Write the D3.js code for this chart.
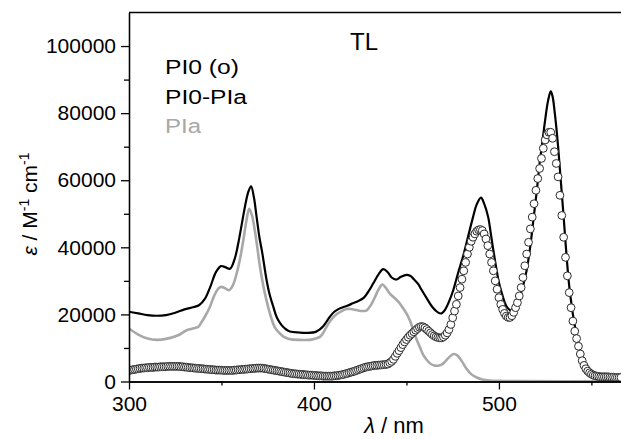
<!DOCTYPE html>
<html>
<head>
<meta charset="utf-8">
<script src="https://cdn.jsdelivr.net/npm/d3@7"></script>
<style>
  body { margin: 0; background: #fff; }
  svg { display: block; font-family: "Liberation Sans", Arial, sans-serif; }
  .axis path, .axis line { stroke: #000; stroke-width: 1.3; }
  .axis text { font-size: 21px; fill: #000; }
</style>
</head>
<body>
<script>
var width = 621,
    height = 439,
    margin = { top: 12.5, right: 0, bottom: 57.5, left: 129 };

// values in 10^3 M-1 cm-1
// PI0 (o): open circles, one per nm from 300 to 566 nm
var pi0Start = 300;
var pi0 = [
  3.3,3.4,3.5,3.6,3.7,3.8,3.9,4.0,4.0,4.1,
  4.1,4.2,4.2,4.2,4.3,4.3,4.3,4.4,4.4,4.4,
  4.4,4.5,4.5,4.5,4.5,4.5,4.5,4.5,4.4,4.4,
  4.3,4.3,4.2,4.1,4.1,4.0,4.0,3.9,3.9,3.8,
  3.8,3.7,3.7,3.6,3.6,3.5,3.5,3.4,3.4,3.4,
  3.4,3.3,3.3,3.3,3.3,3.3,3.3,3.4,3.4,3.5,
  3.5,3.6,3.6,3.7,3.7,3.8,3.8,3.9,3.9,4.0,
  4.0,4.0,4.0,3.9,3.8,3.7,3.6,3.5,3.4,3.3,
  3.2,3.1,3.0,2.9,2.8,2.7,2.6,2.5,2.4,2.3,
  2.3,2.2,2.2,2.1,2.1,2.0,2.0,1.9,1.9,1.9,
  1.8,1.8,1.7,1.7,1.7,1.6,1.6,1.6,1.6,1.6,
  1.6,1.7,1.7,1.8,1.9,2.0,2.1,2.3,2.4,2.6,
  2.8,2.9,3.1,3.3,3.5,3.7,3.9,4.1,4.3,4.4,
  4.5,4.6,4.7,4.8,4.8,4.9,4.9,5.0,5.0,5.1,
  5.2,5.6,6.0,6.6,7.5,8.4,9.2,10.1,11.0,11.8,
  12.5,13.2,13.8,14.3,14.8,15.3,15.8,16.2,16.4,16.3,
  16.0,15.5,15.0,14.5,14.0,13.6,13.3,13.1,13.0,13.0,
  13.3,13.8,14.5,15.5,17.0,19.0,21.0,23.0,25.5,28.0,
  30.5,33.0,35.5,38.0,40.0,41.8,43.0,44.0,44.8,45.2,
  45.3,45.0,44.0,42.5,40.5,38.0,35.5,33.0,30.0,27.5,
  25.0,23.0,21.5,20.3,19.5,19.1,19.1,19.6,20.6,22.0,
  23.5,25.5,28.0,31.0,34.5,38.0,41.5,45.5,49.0,53.0,
  57.0,60.5,63.5,66.5,69.5,72.0,73.5,74.3,74.3,72.5,
  68.5,65.0,61.0,55.5,49.5,43.0,37.0,31.5,26.5,22.0,
  18.0,15.0,12.8,10.5,8.2,6.2,4.8,3.8,3.1,2.6,
  2.2,1.9,1.7,1.6,1.5,1.4,1.4,1.4,1.4,1.4,
  1.3,1.3,1.3,1.2,1.2,1.2,1.2
];

// PI0-PIa: black line [nm, value]
var pi0pia = [
  [300,20.8],[305,20.3],[310,19.8],[315,19.6],[320,19.8],[325,20.5],[330,21.5],
  [335,22.2],[338,22.8],[341,24.6],[344,28.3],[347,32.6],[349.7,34.4],[352,34.1],
  [354.6,33.6],[357,36.3],[359,41],[361,47],[363,53],[364.5,56.5],[366,58.2],
  [367.5,55],[369,49],[370.5,43],[372,38.5],[374.4,30.2],[376,26],[378,22.3],
  [380,19],[382.5,16.8],[385,15.5],[387,14.9],[392,14.6],[397,14.5],[401,14.8],
  [403,15.5],[405,16.5],[408.6,19.3],[411,20.8],[414,21.8],[418,22.6],[421,23.3],
  [424,24],[427,25],[430,27.3],[432,29.2],[435,32],[437.5,33.5],[440,32.5],
  [442,31],[444.5,30.4],[447,31.2],[450,31.8],[452,31.5],[454,30.5],[456.4,29],
  [458,27.5],[461,24.8],[464,22.2],[467,20.6],[469,20.3],[471,21.5],[473,23.8],
  [475.3,27.2],[478,32.5],[480.7,37.5],[483,42.5],[486,49],[488,52.8],[490.3,54.8],
  [492,53],[494.2,49],[495.5,44.5],[497,39.1],[498.5,34],[500,29.5],[502,25.5],
  [504,22.5],[506,21.3],[508,21.8],[510.4,23.8],[512,26.5],[513.5,29.5],[515,33.2],
  [517,40.5],[518.6,48],[520.5,57],[522,65],[523.5,71.5],[525,78],[526.5,83.5],
  [528,86.5],[529,85],[530,81],[531,76],[532,70],[533,63],[534,56],[535,49],
  [536,41.5],[537,34.5],[538,28.5],[539,24],[540,20],[541,16.8],[542,13.5],
  [543,11],[544,8.5],[545,6.5],[546,5],[547,3.8],[548,2.8],[549,2.1],[550,1.5],
  [552,0.9],[555,0.5],[560,0.3],[566,0.2]
];

// PIa: grey line [nm, value]
var pia = [
  [300,15.8],[305,14],[310,12.8],[315,12.4],[320,12.7],[326.6,13.8],[331,15.2],
  [334,15.7],[337.5,16.3],[339,17.5],[341,19.3],[343.8,22.3],[346,25.5],[348.3,27.7],
  [350,28.2],[352,27.8],[354,27.2],[356,28.5],[358.2,32.2],[360,36.5],[361.8,42.1],
  [363.5,48],[365,51.5],[366.5,49.5],[368,45.1],[369.5,39.5],[370.8,34.2],[373.5,26.2],
  [377,18.8],[379,16],[381.6,14.3],[384,13.2],[387,12.6],[392.4,12.4],[397.8,12.4],
  [401,12.8],[403.2,13.3],[405,14.5],[406.8,16.3],[409,18.2],[412.3,20.1],[415,21],
  [417.7,21.6],[420,21.6],[423,21.3],[426,21],[428.5,21.2],[431,23],[433,25.2],
  [435,27.5],[437,28.9],[439,27.8],[441,26.2],[443,25.2],[445.6,23.8],[448,22],
  [450,20.3],[452,18],[453.7,15.3],[455.5,12.5],[457.3,10.2],[459,8],[461,6.4],
  [463,5.3],[465,4.8],[467,4.7],[469,5],[471,6],[473,7.2],[475.5,8.2],[477.5,7.8],
  [480,6],[482.5,3.8],[485,2.2],[488,1.2],[491,0.6],[495,0.3],[500,0.2],[510,0.1],
  [566,0.1]
];

var xMajor = [300, 400, 500],
    xMinor = [350, 450, 550],
    yMajor = [0, 20, 40, 60, 80, 100],
    yMinor = [10, 30, 50, 70, 90];

var legend = [
  { label: "PI0 (o)", color: "#000", w: 74 },
  { label: "PI0-PIa", color: "#000", w: 82 },
  { label: "PIa", color: "#a8a8a8", w: 36 }
];

var svg = d3.select("body").append("svg")
    .attr("width", width)
    .attr("height", height);

var x = d3.scaleLinear().domain([300, 566]).range([margin.left, width - margin.right]);
var y = d3.scaleLinear().domain([0, 110]).range([height - margin.bottom, margin.top]);

svg.append("clipPath").attr("id", "plot")
  .append("rect")
    .attr("x", margin.left).attr("y", margin.top)
    .attr("width", width - margin.left).attr("height", height - margin.bottom - margin.top);

var line = d3.line()
    .x(function (d) { return x(d[0]); })
    .y(function (d) { return y(d[1]); })
    .curve(d3.curveCatmullRom);

var g = svg.append("g").attr("clip-path", "url(#plot)");

g.append("path")
    .datum(pia)
    .attr("fill", "none")
    .attr("stroke", "#a8a8a8")
    .attr("stroke-width", 2.6)
    .attr("d", line);

g.append("path")
    .datum(pi0pia)
    .attr("fill", "none")
    .attr("stroke", "#000")
    .attr("stroke-width", 2.2)
    .attr("d", line);

g.selectAll("circle")
    .data(pi0)
    .enter().append("circle")
    .attr("cx", function (d, i) { return x(pi0Start + i); })
    .attr("cy", function (d) { return y(d); })
    .attr("r", 3.9)
    .attr("fill", "#fff")
    .attr("stroke", "#2a2a2a")
    .attr("stroke-width", 1);

// axes
var fmt = function (d) { return d3.format("d")(d * 1000); };

svg.append("g").attr("class", "axis")
    .attr("transform", "translate(" + margin.left + ",0)")
    .call(d3.axisLeft(y).tickValues(yMajor).tickFormat(fmt).tickSize(8).tickSizeOuter(0).tickPadding(5));

svg.append("g").attr("class", "axis")
    .attr("transform", "translate(" + margin.left + ",0)")
    .call(d3.axisLeft(y).tickValues(yMinor).tickFormat("").tickSize(5).tickSizeOuter(0));

svg.append("g").attr("class", "axis")
    .attr("transform", "translate(0," + y(0) + ")")
    .call(d3.axisBottom(x).tickValues(xMajor).tickSize(8).tickSizeOuter(0).tickPadding(7));

svg.append("g").attr("class", "axis")
    .attr("transform", "translate(0," + y(0) + ")")
    .call(d3.axisBottom(x).tickValues(xMinor).tickFormat("").tickSize(4).tickSizeOuter(0));

// top frame
svg.append("line")
    .attr("x1", margin.left).attr("x2", width)
    .attr("y1", margin.top).attr("y2", margin.top)
    .attr("stroke", "#000").attr("stroke-width", 1.3);

// axis titles
var xt = svg.append("text")
    .attr("x", 394).attr("y", 433)
    .attr("text-anchor", "middle")
    .style("font-size", "22px");
xt.append("tspan").style("font-style", "italic").text("λ");
xt.append("tspan").text(" / nm");

var yt = svg.append("text")
    .attr("transform", "translate(37,204) rotate(-90)")
    .attr("text-anchor", "middle")
    .style("font-size", "21px");
yt.append("tspan").style("font-style", "italic").text("ε");
yt.append("tspan").text(" / M");
yt.append("tspan").attr("dy", -8).style("font-size", "14px").text("-1");
yt.append("tspan").attr("dy", 8).text(" cm");
yt.append("tspan").attr("dy", -8).style("font-size", "14px").text("-1");

// labels
svg.append("text")
    .attr("x", 350).attr("y", 50)
    .style("font-size", "24px")
    .text("TL");

svg.selectAll(".leg")
    .data(legend)
    .enter().append("text")
    .attr("class", "leg")
    .attr("x", 165)
    .attr("y", function (d, i) { return 74 + i * 29.5; })
    .attr("textLength", function (d) { return d.w; })
    .attr("lengthAdjust", "spacingAndGlyphs")
    .style("font-size", "20px")
    .attr("fill", function (d) { return d.color; })
    .text(function (d) { return d.label; });
</script>
</body>
</html>
